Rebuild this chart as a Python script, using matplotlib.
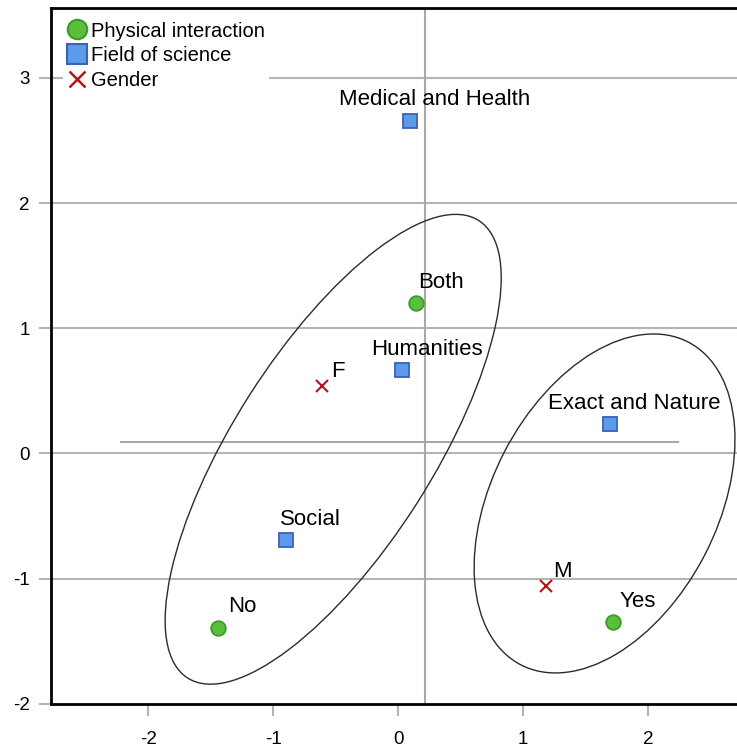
import matplotlib
matplotlib.use("Agg")
import matplotlib.pyplot as plt
from matplotlib.patches import Ellipse
from matplotlib.lines import Line2D

plt.rcParams['font.family'] = ['Liberation Sans', 'DejaVu Sans']

# ---- data ----
phys_labels = ["Both", "No", "Yes"]
phys_x = [0.14, -1.445, 1.714]
phys_y = [1.20, -1.395, -1.351]

field_labels = ["Medical and Health", "Humanities", "Exact and Nature", "Social"]
field_x = [0.09, 0.027, 1.690, -0.900]
field_y = [2.658, 0.663, 0.231, -0.694]

gender_labels = ["F", "M"]
gender_x = [-0.609, 1.184]
gender_y = [0.540, -1.061]

# ellipses: centre x, centre y, full width, full height, angle (deg)
ell_cx = [-0.521, 1.650]
ell_cy = [0.033, -0.400]
ell_w = [4.334, 2.906]
ell_h = [1.594, 1.802]
ell_ang = [57.5, 62.5]

# reference lines
vline_x = 0.21
hline_y = 0.089
hline_x0, hline_x1 = -2.22, 2.24

xticks = [-2, -1, 0, 1, 2]
yticks = [-2, -1, 0, 1, 2, 3]

# ---- figure ----
W, H = 737, 749
fig = plt.figure(figsize=(W / 100, H / 100), dpi=100)
ax = fig.add_axes([50.7 / W, (H - 703.7) / H, 697.6 / W, 696.2 / H])
ax.set_xlim(-2.781, 2.80)
ax.set_ylim(-2.0, 3.563)

grid_c = '#b4b4b4'
for yv in [1, 0, -1, 2, 3]:
    ax.axhline(yv, color=grid_c, lw=1.5, zorder=1)
ax.axvline(vline_x, color='#a8a8a8', lw=1.5, zorder=1)
ax.plot([hline_x0, hline_x1], [hline_y, hline_y], color='#a8a8a8', lw=1.5, zorder=1)

for cx, cy, w, h, a in zip(ell_cx, ell_cy, ell_w, ell_h, ell_ang):
    ax.add_patch(Ellipse((cx, cy), w, h, angle=a, fill=False,
                         edgecolor='#2b2b2b', lw=1.0, zorder=2))

g_fc, g_ec = '#5cbf3a', '#3a9a2c'
b_fc, b_ec = '#5b9bea', '#3c5fb8'
r_c = '#b01818'

ax.plot(phys_x, phys_y, 'o', ms=10.5, mfc=g_fc, mec=g_ec, mew=1.3, ls='none', zorder=4)
ax.plot(field_x, field_y, 's', ms=10, mfc=b_fc, mec=b_ec, mew=1.3, ls='none', zorder=4)
ax.plot(gender_x, gender_y, 'x', ms=8, color=r_c, mew=1.5, ls='none', zorder=4)

for lbls, xs, ys, off in [(phys_labels, phys_x, phys_y, (25, 15.5)),
                          (field_labels, field_x, field_y, (25, 15.5)),
                          (gender_labels, gender_x, gender_y, (16, 9))]:
    for t, x, y in zip(lbls, xs, ys):
        ax.annotate(t, (x, y), xytext=off, textcoords='offset pixels',
                    ha='center', va='baseline', fontsize=16, color='black', zorder=5)

for s in ['left', 'bottom', 'top', 'right']:
    ax.spines[s].set_color('black')
    ax.spines[s].set_linewidth(2)

ax.set_xticks(xticks)
ax.set_yticks(yticks)
ax.set_xticklabels([str(v) for v in xticks])
ax.set_yticklabels([str(v) for v in yticks])
ax.tick_params(axis='both', direction='out', length=8.6, width=1.5, color=grid_c,
               labelsize=13.5, labelcolor='black')
ax.tick_params(axis='x', pad=11)
ax.tick_params(axis='y', pad=6.5)

handles = [
    Line2D([], [], marker='o', ls='none', ms=14, mfc=g_fc, mec=g_ec, mew=1.5),
    Line2D([], [], marker='s', ls='none', ms=14, mfc=b_fc, mec=b_ec, mew=1.5),
    Line2D([], [], marker='x', ls='none', ms=11, color=r_c, mew=1.8),
]
leg = ax.legend(handles, ["Physical interaction", "Field of science", "Gender"],
                loc='upper left', bbox_to_anchor=(12.5 / 697.6, 1 - 10 / 696.2),
                fontsize=14.5, frameon=True, fancybox=False, framealpha=1,
                facecolor='white', edgecolor='none', borderpad=0.2,
                handlelength=1.0, handletextpad=0.2, labelspacing=0.28,
                borderaxespad=0)
leg.set_zorder(6)

fig.savefig('out.png', dpi=100)
